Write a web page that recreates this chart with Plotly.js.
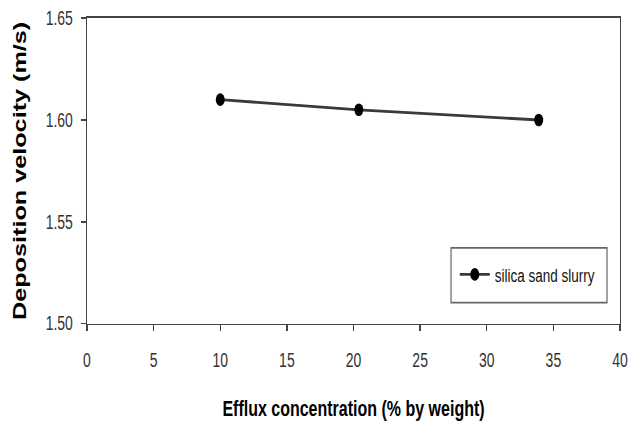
<!DOCTYPE html>
<html>
<head>
<meta charset="utf-8">
<script src="https://cdn.plot.ly/plotly-3.0.1.min.js"></script>
<style>
html,body{margin:0;padding:0;background:#fff;overflow:hidden;}
#wrap{width:639px;height:423px;overflow:hidden;}
#chart{width:639px;height:302px;transform:scaleY(1.4007);transform-origin:0 0;}
</style>
</head>
<body>
<div id="wrap"><div id="chart"></div></div>
<script>
var seriesName = "silica sand slurry";
var effluxConc = [10, 20.4, 33.9];
var depositionVel = [1.610, 1.605, 1.600];
var xTicks = [0, 5, 10, 15, 20, 25, 30, 35, 40];
var yTicks = [1.50, 1.55, 1.60, 1.65];
var yTickText = ["1.50", "1.55", "1.60", "1.65"];

var tickFont = {family: "Liberation Sans, Arial, sans-serif", size: 14, color: "#333"};

var trace = {
  x: effluxConc,
  y: depositionVel,
  type: "scatter",
  mode: "lines+markers",
  name: seriesName,
  line: {color: "#3a3a3a", width: 2},
  marker: {color: "#000", size: 9, symbol: "circle"}
};

var layout = {
  width: 639, height: 302,
  margin: {l: 87, r: 19, t: 12.9, b: 70.5},
  paper_bgcolor: "#fff", plot_bgcolor: "#fff",
  showlegend: true,
  legend: {
    x: 0.69, y: 0.16, xanchor: "left", yanchor: "middle",
    borderwidth: 0, bgcolor: "rgba(0,0,0,0)",
    font: {family: "Liberation Sans, Arial, sans-serif", size: 13.5, color: "#111"}
  },
  shapes: [{
    type: "rect", xref: "paper", yref: "paper",
    x0: 0.683, x1: 0.9756, y0: 0.0686, y1: 0.248,
    line: {color: "#666", width: 1.2}, fillcolor: "rgba(0,0,0,0)", layer: "below"
  }],
  xaxis: {
    range: [0, 40], tickvals: xTicks, ticktext: xTicks.map(String),
    showline: true, mirror: true, linecolor: "#444", linewidth: 1.3,
    ticks: "outside", ticklen: 4, tickcolor: "#444", tickwidth: 1.3,
    ticklabelstandoff: 9,
    showgrid: false, zeroline: false, tickfont: tickFont,
    title: {text: "Efflux concentration (% by weight)", standoff: 21,
      font: {family: "Liberation Sans, Arial, sans-serif", size: 16, color: "#000", weight: "bold"}}
  },
  yaxis: {
    range: [1.50, 1.65], tickvals: yTicks, ticktext: yTickText,
    showline: true, mirror: true, linecolor: "#444", linewidth: 1.3,
    ticks: "outside", ticklen: 5, tickcolor: "#444", tickwidth: 1.3,
    ticklabelstandoff: 5,
    showgrid: false, zeroline: false, tickfont: tickFont,
    title: {text: "Deposition velocity (m/s)", standoff: 14,
      font: {family: "Liberation Sans, Arial, sans-serif", size: 18, color: "#000", weight: "bold"}}
  }
};

Plotly.newPlot("chart", [trace], layout, {displayModeBar: false, staticPlot: true});
</script>
</body>
</html>
